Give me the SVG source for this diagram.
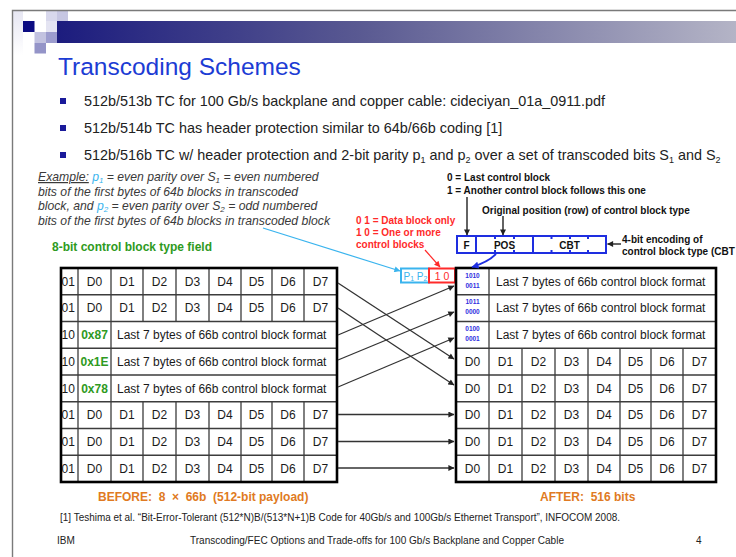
<svg xmlns="http://www.w3.org/2000/svg" width="736" height="557" viewBox="0 0 736 557">
<defs>
<linearGradient id="bar" x1="0" y1="0" x2="1" y2="0">
<stop offset="0" stop-color="#1c1c7e"/>
<stop offset="0.45" stop-color="#5a5a92"/>
<stop offset="1" stop-color="#b4b4c6"/>
</linearGradient>
<linearGradient id="strip" x1="0" y1="0" x2="0" y2="1">
<stop offset="0" stop-color="#e6e6f2"/>
<stop offset="1" stop-color="#ffffff"/>
</linearGradient>
<marker id="ak" viewBox="0 0 8 8" refX="7.5" refY="4" markerWidth="7" markerHeight="6" orient="auto" markerUnits="userSpaceOnUse"><path d="M0,0 L8,4 L0,8 z" fill="#222"/></marker>
<marker id="ab" viewBox="0 0 8 8" refX="7.5" refY="4" markerWidth="8" markerHeight="7" orient="auto" markerUnits="userSpaceOnUse"><path d="M0,0 L8,4 L0,8 z" fill="#1e2ee0"/></marker>
<marker id="ar" viewBox="0 0 8 8" refX="7.5" refY="4" markerWidth="7" markerHeight="6" orient="auto" markerUnits="userSpaceOnUse"><path d="M0,0 L8,4 L0,8 z" fill="#ff2a2a"/></marker>
<marker id="al" viewBox="0 0 8 8" refX="7.5" refY="4" markerWidth="7" markerHeight="6" orient="auto" markerUnits="userSpaceOnUse"><path d="M0,0 L8,4 L0,8 z" fill="#3ab4ee"/></marker>
<style>
text{font-family:"Liberation Sans",Arial,sans-serif}
.t{font-size:12px;fill:#1a1a1a}
.c{text-anchor:middle}
.b{font-size:14.4px;fill:#222}
.ex{font-size:12.2px;font-style:italic;fill:#3a3a3a}
.an{font-size:10px;font-weight:bold;fill:#111}
.rd{font-size:10px;font-weight:bold;fill:#ff2a2a}
.gr{font-size:12px;font-weight:bold;fill:#2e9a22}
.or{font-size:12px;font-weight:bold;fill:#e07a22}
.bits{font-size:6.5px;font-weight:bold;fill:#3030e0;text-anchor:middle}
.grid{fill:none;stroke:#3c3c3c;stroke-width:1.3}
.outer{fill:none;stroke:#000;stroke-width:2.6}
.conn{fill:none;stroke:#333;stroke-width:1.3;marker-end:url(#ak)}
.ft{font-size:10px;fill:#222}
</style>
</defs>
<rect width="736" height="557" fill="#fff"/>

<g id="frame">
<rect x="12" y="10" width="11" height="45" fill="url(#strip)"/>
<rect x="57" y="21" width="679" height="22" fill="url(#bar)"/>
<rect x="23" y="21" width="11.5" height="11" fill="#0c0c82"/>
<rect x="46" y="10" width="11" height="11" fill="#d8d8ec"/>
<rect x="57" y="10" width="11" height="11" fill="#c6c6e2"/>
<rect x="46" y="21" width="11" height="11" fill="#e4e4f2"/>
<rect x="34.5" y="32" width="11.5" height="11" fill="#c2c2e0"/>
<rect x="46" y="32" width="11" height="11" fill="#9c9cce"/>
<rect x="34.5" y="43" width="11.5" height="10.5" fill="#9494c8"/>
<path d="M12.5,557 V10.5 H736" fill="none" stroke="#7a7a7a" stroke-width="1.4"/>
</g>

<g id="title">
<text x="58" y="74.5" font-size="24.5" fill="#1c3cd4">Transcoding Schemes</text>
</g>

<g id="bullets">
<rect x="60" y="98" width="6" height="6" fill="#1a1a9a"/>
<rect x="60" y="125" width="6" height="6" fill="#1a1a9a"/>
<rect x="60" y="152" width="6" height="6" fill="#1a1a9a"/>
<text class="b" x="84" y="106">512b/513b TC for 100 Gb/s backplane and copper cable: cideciyan_01a_0911.pdf</text>
<text class="b" x="84" y="133">512b/514b TC has header protection similar to 64b/66b coding [1]</text>
<text class="b" x="84" y="160">512b/516b TC w/ header protection and 2-bit parity p<tspan font-size="9" dy="3">1</tspan><tspan dy="-3"> and p</tspan><tspan font-size="9" dy="3">2</tspan><tspan dy="-3"> over a set of transcoded bits S</tspan><tspan font-size="9" dy="3">1</tspan><tspan dy="-3"> and S</tspan><tspan font-size="9" dy="3">2</tspan></text>
</g>

<g id="example-note">
<text class="ex" x="38" y="181"><tspan text-decoration="underline">Example:</tspan> <tspan fill="#3ab4ee">p</tspan><tspan fill="#3ab4ee" font-size="8" dy="2">1</tspan><tspan dy="-2"> = even parity over S</tspan><tspan font-size="8" dy="2">1</tspan><tspan dy="-2"> = even numbered</tspan></text>
<text class="ex" x="38" y="195.5">bits of the first bytes of 64b blocks in transcoded</text>
<text class="ex" x="38" y="210">block, and <tspan fill="#3ab4ee">p</tspan><tspan fill="#3ab4ee" font-size="8" dy="2">2</tspan><tspan dy="-2"> = even parity over S</tspan><tspan font-size="8" dy="2">2</tspan><tspan dy="-2"> = odd numbered</tspan></text>
<text class="ex" x="38" y="224.5">bits of the first bytes of 64b blocks in transcoded block</text>
</g>

<g id="label-8bit">
<text class="gr" x="52" y="251">8-bit control block type field</text>
</g>

<g id="annot-F">
<text class="an" x="447" y="180.5">0 = Last control block</text>
<text class="an" x="447" y="193.5">1 = Another control block follows this one</text>
</g>
<g id="annot-POS">
<text class="an" x="482" y="214">Original position (row) of control block type</text>
</g>
<g id="annot-CBT">
<text class="an" x="622" y="243">4-bit encoding of</text>
<text class="an" x="622" y="255">control block type (CBT</text>
</g>
<g id="annot-red">
<text class="rd" x="356" y="224">0 1 = Data block only</text>
<text class="rd" x="356" y="236">1 0 = One or more</text>
<text class="rd" x="356" y="248">control blocks</text>
</g>

<g id="header-box">
<rect x="457" y="236" width="149" height="17" fill="#fff" stroke="#1e2ee0" stroke-width="2"/>
<path d="M476,236 V253 M533,236 V253" stroke="#1e2ee0" stroke-width="2"/>
<path d="M495,237 V239 M514,237 V239 M551.5,237 V239 M570,237 V239 M588,237 V239 M495,250 V252 M514,250 V252 M551.5,250 V252 M570,250 V252 M588,250 V252" stroke="#1e2ee0" stroke-width="2"/>
<text class="an c" x="466.5" y="248.5">F</text>
<text class="an c" x="504.5" y="248.5">POS</text>
<text class="an c" x="569.5" y="248.5">CBT</text>
</g>

<g id="parity-box">
<rect x="401" y="268.5" width="28" height="14" fill="#fff" stroke="#3ab4ee" stroke-width="2"/>
<text x="403.5" y="279.5" font-size="10" fill="#3ab4ee">P<tspan font-size="7" dy="1.5">1</tspan><tspan dy="-1.5"> P</tspan><tspan font-size="7" dy="1.5">2</tspan></text>
</g>
<g id="sync-box">
<rect x="429" y="268.5" width="26" height="14" fill="#fff" stroke="#ff2a2a" stroke-width="2"/>
<text class="c" x="442" y="279.5" font-size="10.5" fill="#ff2a2a">1 0</text>
</g>

<g id="before-table">
<rect x="61" y="268" width="276" height="214" fill="#fff"/>
<path class="grid" d="M61,294.75 H337 M61,321.5 H337 M61,348.25 H337 M61,375 H337 M61,401.75 H337 M61,428.5 H337 M61,455.25 H337 M78,268 V482 M111,268 V482 M143,268 V321.5 M176,268 V321.5 M209,268 V321.5 M241,268 V321.5 M272,268 V321.5 M304,268 V321.5 M143,401.75 V482 M176,401.75 V482 M209,401.75 V482 M241,401.75 V482 M272,401.75 V482 M304,401.75 V482"/>
<g id="b-row1" class="t"><text x="61.5" y="285.7">01</text><text class="c" x="94.5" y="285.7">D0</text><text class="c" x="127" y="285.7">D1</text><text class="c" x="159.5" y="285.7">D2</text><text class="c" x="192.5" y="285.7">D3</text><text class="c" x="225" y="285.7">D4</text><text class="c" x="256.5" y="285.7">D5</text><text class="c" x="288" y="285.7">D6</text><text class="c" x="320.5" y="285.7">D7</text></g>
<g id="b-row2" class="t"><text x="61.5" y="312.4">01</text><text class="c" x="94.5" y="312.4">D0</text><text class="c" x="127" y="312.4">D1</text><text class="c" x="159.5" y="312.4">D2</text><text class="c" x="192.5" y="312.4">D3</text><text class="c" x="225" y="312.4">D4</text><text class="c" x="256.5" y="312.4">D5</text><text class="c" x="288" y="312.4">D6</text><text class="c" x="320.5" y="312.4">D7</text></g>
<g id="b-row3"><text class="t" x="61.5" y="339.2">10</text><text class="gr c" x="94.5" y="339.2">0x87</text><text class="t" x="117" y="339.2">Last 7 bytes of 66b control block format</text></g>
<g id="b-row4"><text class="t" x="61.5" y="365.9">10</text><text class="gr c" x="94.5" y="365.9">0x1E</text><text class="t" x="117" y="365.9">Last 7 bytes of 66b control block format</text></g>
<g id="b-row5"><text class="t" x="61.5" y="392.7">10</text><text class="gr c" x="94.5" y="392.7">0x78</text><text class="t" x="117" y="392.7">Last 7 bytes of 66b control block format</text></g>
<g id="b-row6" class="t"><text x="61.5" y="419.4">01</text><text class="c" x="94.5" y="419.4">D0</text><text class="c" x="127" y="419.4">D1</text><text class="c" x="159.5" y="419.4">D2</text><text class="c" x="192.5" y="419.4">D3</text><text class="c" x="225" y="419.4">D4</text><text class="c" x="256.5" y="419.4">D5</text><text class="c" x="288" y="419.4">D6</text><text class="c" x="320.5" y="419.4">D7</text></g>
<g id="b-row7" class="t"><text x="61.5" y="446.2">01</text><text class="c" x="94.5" y="446.2">D0</text><text class="c" x="127" y="446.2">D1</text><text class="c" x="159.5" y="446.2">D2</text><text class="c" x="192.5" y="446.2">D3</text><text class="c" x="225" y="446.2">D4</text><text class="c" x="256.5" y="446.2">D5</text><text class="c" x="288" y="446.2">D6</text><text class="c" x="320.5" y="446.2">D7</text></g>
<g id="b-row8" class="t"><text x="61.5" y="472.9">01</text><text class="c" x="94.5" y="472.9">D0</text><text class="c" x="127" y="472.9">D1</text><text class="c" x="159.5" y="472.9">D2</text><text class="c" x="192.5" y="472.9">D3</text><text class="c" x="225" y="472.9">D4</text><text class="c" x="256.5" y="472.9">D5</text><text class="c" x="288" y="472.9">D6</text><text class="c" x="320.5" y="472.9">D7</text></g>
<rect class="outer" x="61" y="268" width="276" height="214"/>
<text class="or" x="98" y="501">BEFORE:&#160; 8&#160; ×&#160; 66b&#160; (512-bit payload)</text>
</g>

<g id="after-table">
<rect x="456" y="268" width="260" height="214" fill="#fff"/>
<path class="grid" d="M456,294.75 H716 M456,321.5 H716 M456,348.25 H716 M456,375 H716 M456,401.75 H716 M456,428.5 H716 M456,455.25 H716 M489,268 V482 M522,348.25 V482 M555,348.25 V482 M588,348.25 V482 M620,348.25 V482 M651,348.25 V482 M683,348.25 V482"/>
<g id="a-row1"><text class="bits" x="472.5" y="277.5">1010</text><text class="bits" x="472.5" y="287.5">0011</text><text class="t" x="496" y="285.7">Last 7 bytes of 66b control block format</text></g>
<g id="a-row2"><text class="bits" x="472.5" y="304.2">1011</text><text class="bits" x="472.5" y="314.2">0000</text><text class="t" x="496" y="312.4">Last 7 bytes of 66b control block format</text></g>
<g id="a-row3"><text class="bits" x="472.5" y="331">0100</text><text class="bits" x="472.5" y="341">0001</text><text class="t" x="496" y="339.2">Last 7 bytes of 66b control block format</text></g>
<g id="a-row4" class="t"><text class="c" x="472.5" y="365.9">D0</text><text class="c" x="505.5" y="365.9">D1</text><text class="c" x="538.5" y="365.9">D2</text><text class="c" x="571.5" y="365.9">D3</text><text class="c" x="604" y="365.9">D4</text><text class="c" x="635.5" y="365.9">D5</text><text class="c" x="667" y="365.9">D6</text><text class="c" x="699.5" y="365.9">D7</text></g>
<g id="a-row5" class="t"><text class="c" x="472.5" y="392.7">D0</text><text class="c" x="505.5" y="392.7">D1</text><text class="c" x="538.5" y="392.7">D2</text><text class="c" x="571.5" y="392.7">D3</text><text class="c" x="604" y="392.7">D4</text><text class="c" x="635.5" y="392.7">D5</text><text class="c" x="667" y="392.7">D6</text><text class="c" x="699.5" y="392.7">D7</text></g>
<g id="a-row6" class="t"><text class="c" x="472.5" y="419.4">D0</text><text class="c" x="505.5" y="419.4">D1</text><text class="c" x="538.5" y="419.4">D2</text><text class="c" x="571.5" y="419.4">D3</text><text class="c" x="604" y="419.4">D4</text><text class="c" x="635.5" y="419.4">D5</text><text class="c" x="667" y="419.4">D6</text><text class="c" x="699.5" y="419.4">D7</text></g>
<g id="a-row7" class="t"><text class="c" x="472.5" y="446.2">D0</text><text class="c" x="505.5" y="446.2">D1</text><text class="c" x="538.5" y="446.2">D2</text><text class="c" x="571.5" y="446.2">D3</text><text class="c" x="604" y="446.2">D4</text><text class="c" x="635.5" y="446.2">D5</text><text class="c" x="667" y="446.2">D6</text><text class="c" x="699.5" y="446.2">D7</text></g>
<g id="a-row8" class="t"><text class="c" x="472.5" y="472.9">D0</text><text class="c" x="505.5" y="472.9">D1</text><text class="c" x="538.5" y="472.9">D2</text><text class="c" x="571.5" y="472.9">D3</text><text class="c" x="604" y="472.9">D4</text><text class="c" x="635.5" y="472.9">D5</text><text class="c" x="667" y="472.9">D6</text><text class="c" x="699.5" y="472.9">D7</text></g>
<rect class="outer" x="456" y="268" width="260" height="214"/>
<text class="or" x="540" y="501">AFTER:&#160; 516 bits</text>
</g>

<g id="connectors">
<path class="conn" d="M338,283 L454,359"/>
<path class="conn" d="M338,308 L454,385"/>
<path class="conn" d="M338,335 L454,286"/>
<path class="conn" d="M338,360 L454,312"/>
<path class="conn" d="M338,387 L454,338"/>
<path class="conn" d="M338,414.5 L454,414.5"/>
<path class="conn" d="M338,441.5 L454,441.5"/>
<path class="conn" d="M338,468 L454,468"/>
<path d="M467,197 V235" fill="none" stroke="#222" stroke-width="1.4" marker-end="url(#ak)"/>
<path d="M503,216 V235" fill="none" stroke="#222" stroke-width="1.4" marker-end="url(#ak)"/>
<path d="M621,244 H607.5" fill="none" stroke="#222" stroke-width="1.4" marker-end="url(#ak)"/>
<path d="M496,254 Q488,262 472,267" fill="none" stroke="#1e2ee0" stroke-width="1.8" marker-end="url(#ab)"/>
<path d="M425,250 L440,267" fill="none" stroke="#ff2a2a" stroke-width="1.2" marker-end="url(#ar)"/>
<path d="M263,228 L400,271" fill="none" stroke="#3ab4ee" stroke-width="1.2" marker-end="url(#al)"/>
</g>

<g id="footer">
<text class="ft" x="60" y="521" font-size="9.5" textLength="560" lengthAdjust="spacingAndGlyphs">[1] Teshima et al. “Bit-Error-Tolerant (512*N)B/(513*N+1)B Code for 40Gb/s and 100Gb/s Ethernet Transport”, INFOCOM 2008.</text>
<text class="ft" x="57" y="544">IBM</text>
<text class="ft" x="190" y="544" textLength="374" lengthAdjust="spacingAndGlyphs">Transcoding/FEC Options and Trade-offs for 100 Gb/s Backplane and Copper Cable</text>
<text class="ft" x="696" y="544">4</text>
</g>
</svg>
